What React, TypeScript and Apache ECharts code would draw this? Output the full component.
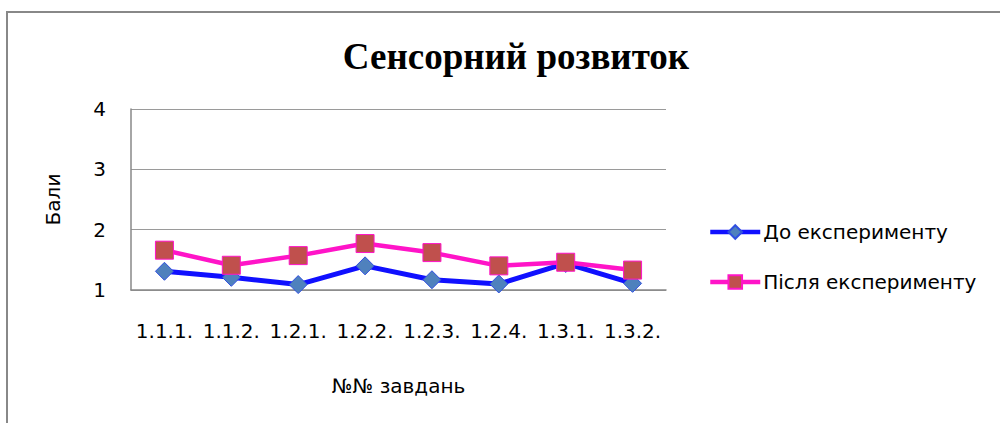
import React, { useEffect, useRef } from "react";
import * as echarts from "echarts";

const categories = ["1.1.1.", "1.1.2.", "1.2.1.", "1.2.2.", "1.2.3.", "1.2.4.", "1.3.1.", "1.3.2."];
const beforeValues = [1.31, 1.21, 1.09, 1.4, 1.17, 1.1, 1.44, 1.11];
const afterValues = [1.66, 1.41, 1.57, 1.77, 1.62, 1.4, 1.46, 1.33];
const seriesNames = ["До експерименту", "Після експерименту"];
const titleText = "Сенсорний розвиток";
const yAxisName = "Бали";
const xAxisName = "№№ завдань";

const uiFont = "'DejaVu Sans', 'Open Sans', sans-serif";

export default function App() {
  const ref = useRef<HTMLDivElement>(null);
  useEffect(() => {
    if (!ref.current) return;
    const chart = echarts.init(ref.current, undefined, { renderer: "svg" });
    chart.setOption({
      animation: false,
      backgroundColor: "#ffffff",
      title: {
        text: titleText,
        left: 511,
        top: 33,
        textAlign: "center",
        textStyle: {
          fontFamily: "'Liberation Serif', 'Times New Roman', serif",
          fontWeight: "bold",
          fontSize: 37,
          color: "#000000",
        },
      },
      graphic: [
        {
          type: "rect",
          shape: { x: 7, y: 12, width: 1200, height: 600 },
          style: { fill: "none", stroke: "#888888", lineWidth: 2 },
          silent: true,
        },
      ],
      legend: {
        orient: "vertical",
        left: 703,
        top: 217,
        itemWidth: 50,
        itemHeight: 17,
        itemGap: 30,
        lineStyle: { width: 4.5 },
        textStyle: { fontFamily: uiFont, fontSize: 20, color: "#000000", padding: [0, 0, 0, -2] },
        data: seriesNames,
      },
      grid: { left: 131, right: 334, top: 109, bottom: 133 },
      xAxis: {
        type: "category",
        data: categories,
        name: xAxisName,
        nameLocation: "middle",
        nameGap: 86,
        nameTextStyle: { fontFamily: uiFont, fontSize: 20, color: "#000000" },
        axisLine: { lineStyle: { color: "#888888", width: 1.5 } },
        axisTick: { show: false },
        axisLabel: { fontFamily: uiFont, fontSize: 20, color: "#000000", margin: 31, interval: 0 },
      },
      yAxis: {
        type: "value",
        min: 1,
        max: 4,
        interval: 1,
        name: yAxisName,
        nameLocation: "middle",
        nameGap: 68,
        nameRotate: 90,
        nameTextStyle: { fontFamily: uiFont, fontSize: 20, color: "#000000" },
        axisLine: { show: true, lineStyle: { color: "#888888", width: 1.5 } },
        axisTick: { show: false },
        axisLabel: { fontFamily: uiFont, fontSize: 20, color: "#000000", margin: 25 },
        splitLine: { lineStyle: { color: "#9a9a9a", width: 1.2 } },
      },
      series: [
        {
          name: seriesNames[0],
          type: "line",
          data: beforeValues,
          symbol: "diamond",
          symbolSize: 18,
          lineStyle: { color: "#1010ff", width: 5 },
          itemStyle: { color: "#4f81bd", borderColor: "#3050e0", borderWidth: 1 },
          z: 2,
        },
        {
          name: seriesNames[1],
          type: "line",
          data: afterValues,
          symbol: "rect",
          symbolSize: 18,
          lineStyle: { color: "#ff14c8", width: 4.5 },
          itemStyle: { color: "#c0504d", borderColor: "#ff14c8", borderWidth: 1 },
          z: 3,
        },
      ],
    });
    return () => chart.dispose();
  }, []);
  return (
    <div
      ref={ref}
      style={{ position: "fixed", left: 0, top: 0, width: 1000, height: 423 }}
    />
  );
}
